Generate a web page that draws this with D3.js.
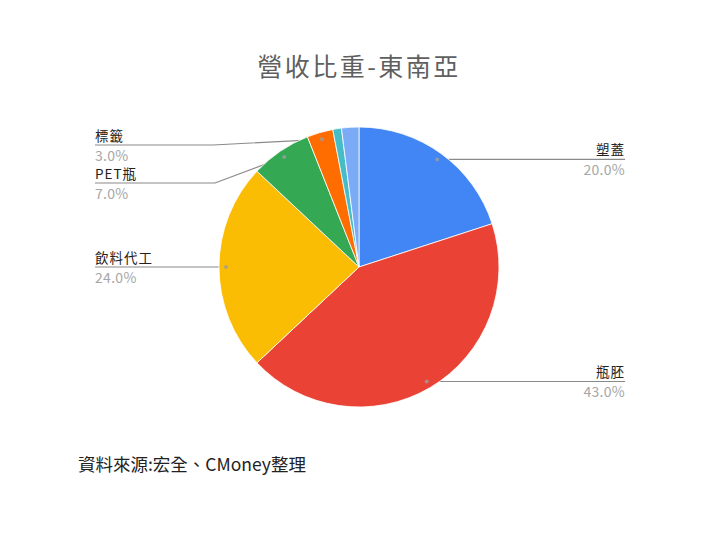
<!DOCTYPE html>
<html>
<head>
<meta charset="utf-8">
<script src="https://cdn.jsdelivr.net/npm/d3@7"></script>
<style>
  body { margin: 0; background: #fff; }
  text { font-family: "Noto Sans CJK TC", "Noto Sans", sans-serif; }
</style>
</head>
<body>
<div id="chart"></div>
<script>
// data
const categories = ["塑蓋", "瓶胚", "飲料代工", "PET瓶", "標籤", "其他A", "其他B"]
const values = [20, 43, 24, 7, 3, 1, 2]
const colors = ["#4285f4", "#ea4335", "#fbbc04", "#34a853", "#ff6d01", "#46bdc6", "#7baaf7"]
const labelled = ["塑蓋", "瓶胚", "飲料代工", "PET瓶", "標籤"]

// layout
const width = 720
const height = 540
const cx = 359
const cy = 267
const radius = 140
const leftX = 95
const rightX = 625
// left-side labels that need a bent leader
const bentLines = { "標籤": { y: 145, bendX: 213 }, "PET瓶": { y: 183, bendX: 215 } }

const svg = d3.select("#chart").append("svg")
  .attr("width", width)
  .attr("height", height)

svg.append("text")
  .attr("x", cx)
  .attr("y", 76)
  .attr("text-anchor", "middle")
  .attr("font-size", 25)
  .attr("letter-spacing", 2.5)
  .attr("fill", "#5f5f5f")
  .text("營收比重-東南亞")

const pie = d3.pie().sort(null).value(d => d.value)
const arcs = pie(categories.map((c, i) => ({ name: c, value: values[i], color: colors[i] })))
const total = d3.sum(values)

const arc = d3.arc().innerRadius(0).outerRadius(radius)
const dotArc = d3.arc().innerRadius(radius * 0.95).outerRadius(radius * 0.95)

const g = svg.append("g").attr("transform", `translate(${cx},${cy})`)

// leader lines go under the slices
const lines = g.append("g")
const slices = g.append("g")
const dots = g.append("g")
const labels = svg.append("g")

slices.selectAll("path")
  .data(arcs)
  .join("path")
  .attr("d", arc)
  .attr("fill", d => d.data.color)
  .attr("stroke", "#fff")
  .attr("stroke-width", 0.8)

arcs.filter(d => labelled.includes(d.data.name)).forEach(d => {
  const [px, py] = dotArc.centroid(d)
  const mid = (d.startAngle + d.endAngle) / 2
  const right = mid < Math.PI
  const bent = bentLines[d.data.name]
  const lineY = bent ? bent.y : cy + py
  const pts = right
    ? [[cx + px, cy + py], [rightX, cy + py]]
    : bent
      ? [[leftX, lineY], [bent.bendX, lineY], [cx + px, cy + py]]
      : [[leftX, lineY], [cx + px, cy + py]]

  lines.append("path")
    .attr("d", d3.line()(pts.map(p => [p[0] - cx, p[1] - cy])))
    .attr("fill", "none")
    .attr("stroke", "#8a8a8a")
    .attr("stroke-width", 1.2)

  dots.append("circle")
    .attr("cx", px)
    .attr("cy", py)
    .attr("r", 2)
    .attr("fill", "#9e9e9e")
    .attr("opacity", 0.8)

  const tx = right ? rightX : leftX
  const anchor = right ? "end" : "start"
  labels.append("text")
    .attr("x", tx)
    .attr("y", lineY - 4)
    .attr("text-anchor", anchor)
    .attr("font-size", 13.5)
    .attr("letter-spacing", 1)
    .attr("fill", "#222")
    .text(d.data.name)
  labels.append("text")
    .attr("x", tx)
    .attr("y", lineY + 15.5)
    .attr("text-anchor", anchor)
    .attr("font-size", 14)
    .attr("letter-spacing", 0.3)
    .attr("fill", "#a6a6a6")
    .text(d3.format(".1%")(d.data.value / total))
})

svg.append("text")
  .attr("x", 78)
  .attr("y", 471)
  .attr("font-size", 17.5)
  .attr("fill", "#222")
  .text("資料來源:宏全、CMoney整理")
</script>
</body>
</html>
